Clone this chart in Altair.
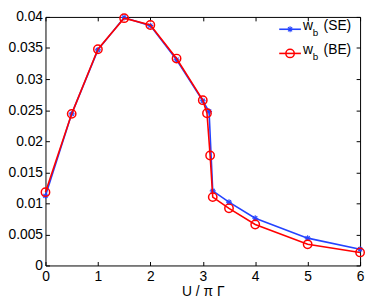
import altair as alt
import pandas as pd

# ---- data ----
SE_U = [0, 0.5, 1, 1.5, 2, 2.5, 3, 3.12, 3.19, 3.5, 4, 5, 6]
SE_W = [0.0112, 0.0244, 0.0347, 0.0399, 0.0386, 0.0331, 0.0265, 0.0248, 0.0120, 0.0102, 0.0076, 0.0044, 0.0026]
BE_U = [0, 0.5, 1, 1.5, 2, 2.5, 3, 3.08, 3.14, 3.19, 3.5, 4, 5, 6]
BE_W = [0.0118, 0.0244, 0.0348, 0.0398, 0.0387, 0.0333, 0.0266, 0.0245, 0.0177, 0.0110, 0.0092, 0.0066, 0.0034, 0.0021]
SERIES = ["SE", "BE"]
X_TICKS = [0, 1, 2, 3, 4, 5, 6]
Y_TICKS = [0, 0.005, 0.01, 0.015, 0.02, 0.025, 0.03, 0.035, 0.04]
X_TITLE = "U / π Γ"

# ---- style ----
W, H = 319, 252
FONT = "Liberation Sans"
FS = 14
BLUE = "#2443ff"
RED = "#ff0000"
ASTERISK = "M-1,0L1,0M0,-1L0,1M-0.7,-0.7L0.7,0.7M-0.7,0.7L0.7,-0.7"

se = pd.DataFrame({"u": SE_U, "w": SE_W})
be = pd.DataFrame({"u": BE_U, "w": BE_W})
one = pd.DataFrame({"k": [0]})

xs = alt.Scale(domain=[0, 6], nice=False, zero=False)
ys = alt.Scale(domain=[0, 0.04], nice=False)

common = dict(offset=-4, tickSize=4, domain=False, grid=False, tickColor="black",
              labelColor="black", labelFont=FONT, labelFontSize=FS,
              labelFlush=False, labelOverlap=False, labelBound=False, tickWidth=1)

x_main = alt.Axis(values=X_TICKS, orient="bottom", labelPadding=4, title=X_TITLE,
                  titleFont=FONT, titleFontSize=FS, titleFontWeight="normal",
                  titleColor="black", titleY=34.5, titleBaseline="alphabetic", **common)
y_main = alt.Axis(values=Y_TICKS, orient="left", labelPadding=3, format="~g",
                  title=None, **common)
x_top = alt.Axis(values=X_TICKS, orient="top", labels=False, title=None, **common)
y_right = alt.Axis(values=Y_TICKS, orient="right", labels=False, title=None, **common)

se_line = alt.Chart(se).mark_line(color=BLUE, strokeWidth=1.6).encode(
    x=alt.X("u:Q", scale=xs, axis=x_main),
    y=alt.Y("w:Q", scale=ys, axis=y_main),
)
se_pts = alt.Chart(se).mark_point(shape=ASTERISK, size=36, color=BLUE, strokeWidth=1.1,
                                  filled=False, opacity=1).encode(
    x=alt.X("u:Q", scale=xs, axis=None),
    y=alt.Y("w:Q", scale=ys, axis=None),
)
be_line = alt.Chart(be).mark_line(color=RED, strokeWidth=1.6).encode(
    x=alt.X("u:Q", scale=xs, axis=None),
    y=alt.Y("w:Q", scale=ys, axis=None),
)
be_pts = alt.Chart(be).mark_point(shape="circle", size=72, color=RED, strokeWidth=1.5,
                                  filled=False, opacity=1).encode(
    x=alt.X("u:Q", scale=xs, axis=None),
    y=alt.Y("w:Q", scale=ys, axis=None),
)
mirror = alt.Chart(se).mark_point(opacity=0).encode(
    x=alt.X("u:Q", scale=xs, axis=x_top),
    y=alt.Y("w:Q", scale=ys, axis=y_right),
)

# ---- manual legend (subscripted labels) ----
legend_layers = []
rows = [(SERIES[0], BLUE, ASTERISK, 36, 1.1, 12.5), (SERIES[1], RED, "circle", 72, 1.5, 37)]
for name, col, shp, sz, sw, yy in rows:
    legend_layers.append(alt.Chart(one).mark_rule(color=col, strokeWidth=1.6).encode(
        x=alt.value(W - 82), x2=alt.value(W - 60), y=alt.value(yy)))
    legend_layers.append(alt.Chart(one).mark_point(shape=shp, size=sz, color=col,
                                                   strokeWidth=sw, filled=False, opacity=1).encode(
        x=alt.value(W - 71), y=alt.value(yy)))
    legend_layers.append(alt.Chart(one).mark_text(font=FONT, fontSize=FS, align="left",
                                                  baseline="alphabetic", color="black").encode(
        x=alt.value(W - 58), y=alt.value(yy + 1), text=alt.value("w")))
    legend_layers.append(alt.Chart(one).mark_text(font=FONT, fontSize=10, align="left",
                                                  baseline="alphabetic", color="black").encode(
        x=alt.value(W - 48), y=alt.value(yy + 7), text=alt.value("b")))
    legend_layers.append(alt.Chart(one).mark_text(font=FONT, fontSize=FS, align="left",
                                                  baseline="alphabetic", color="black").encode(
        x=alt.value(W - 37), y=alt.value(yy + 1), text=alt.value(f"({name})")))

chart = alt.layer(mirror, se_line, se_pts, be_line, be_pts, *legend_layers).resolve_axis(
    x="independent", y="independent"
).properties(
    width=W, height=H,
    autosize=alt.AutoSizeParams(type="none"),
    padding={"left": 38, "top": 7, "right": 6, "bottom": 36},
    background="white",
).configure_view(stroke="black", strokeWidth=1)

chart.save("out.html", embed_options={"renderer": "svg", "actions": False})
